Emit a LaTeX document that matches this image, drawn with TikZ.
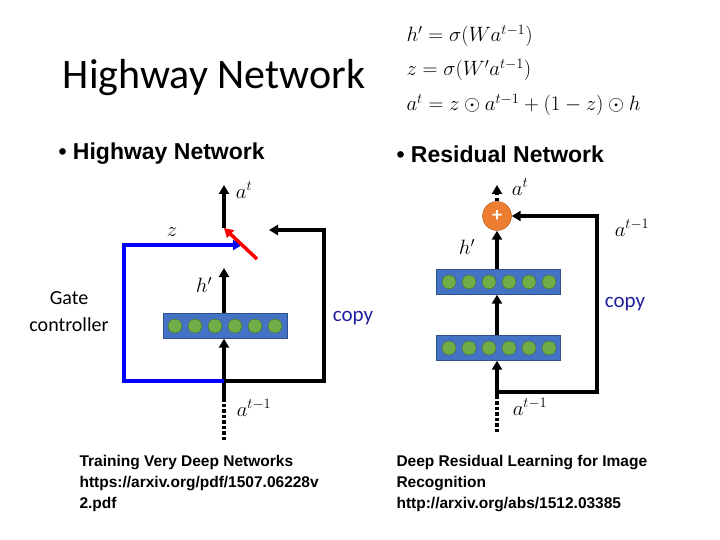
\documentclass[tikz,border=0pt]{standalone}
\usepackage{fontspec}
\setmainfont{Carlito}
\newfontfamily\arialf{Liberation Sans}
\usetikzlibrary{arrows.meta,positioning}
\definecolor{layerblue}{HTML}{4472C4}
\definecolor{unitgreen}{HTML}{70AD47}
\definecolor{plusorange}{HTML}{ED7D31}
\definecolor{copyblue}{HTML}{1F1FA0}
\tikzset{
    layer/.style={draw=layerblue!70!black, fill=layerblue, minimum width=124pt, minimum height=25pt, inner sep=0pt},
    unit/.style={circle, draw=unitgreen!60!black, fill=unitgreen, minimum size=14pt, inner sep=0pt},
    wire/.style={line width=3.5pt, -{Triangle[length=9pt,width=10pt]}},
    lbl/.style={font=\fontsize{21}{23}\selectfont}
}
\begin{document}
\begin{tikzpicture}[x=1pt, y=-1pt]
\useasboundingbox (0,0) rectangle (720,540);
% title and formulas
\node[font=\fontsize{42}{44}\selectfont] (title) at (214,78) {Highway Network};
\node[anchor=west, lbl, font=\fontsize{22}{24}\selectfont] (eq1) at (403,36) {$h' = \sigma(W a^{t-1})$};
\node[anchor=west, lbl, font=\fontsize{22}{24}\selectfont] (eq2) at (403,70) {$z = \sigma(W' a^{t-1})$};
\node[anchor=west, lbl, font=\fontsize{22}{24}\selectfont] (eq3) at (403,105) {$a^{t} = z \odot a^{t-1} + (1-z) \odot h$};
\node[anchor=west, font=\arialf\bfseries\fontsize{23}{25}\selectfont] (b1) at (55,154) {• Highway Network};
\node[anchor=west, font=\arialf\bfseries\fontsize{23}{25}\selectfont] (b2) at (393,154) {• Residual Network};

% left: highway
\node[layer] (hl) at (225,326) {};
\foreach \i in {0,...,5}
    \node[unit] at (175+\i*20,326) {};
\coordinate (hin) at (224,400);
\coordinate (hjoin) at (224,381);
\coordinate (hbl) at (124,381);
\coordinate (htl) at (124,245);
\coordinate (hz) at (242,245);
\coordinate (hbr) at (324,381);
\coordinate (htr) at (324,230);
\coordinate (hcopy) at (269,230);
\coordinate (hgate) at (224,228);
\coordinate (hout) at (224,185);
\coordinate (hh) at (224,268);
\coordinate (hred) at (257,259);
\draw[line width=3.5pt, dotted] (224,440) -- (hin);
\draw[wire] (hin) -- (hl.south -| hin);
\draw[wire] (hl.north -| hin) -- (hh);
\draw[wire, blue] (hjoin) -- (hbl) -- (htl) -- (hz);
\draw[wire] (hjoin) -- (hbr) -- (htr) -- (hcopy);
\draw[wire, red] (hred) -- (hgate);
\draw[wire] (hgate) -- (hout);
\node[lbl] at (244,190) {$a^{t}$};
\node[lbl] at (172,232) {$z$};
\node[lbl] at (204,285) {$h'$};
\node[lbl] at (254,408) {$a^{t-1}$};
\node[align=center, font=\fontsize{20}{27}\selectfont] (gate) at (69,312) {Gate\\controller};
\node[font=\fontsize{21}{22}\selectfont, text=copyblue] (copyl) at (353,318) {copy};

% right: residual
\node[layer] (r2) at (498,282) {};
\node[layer] (r1) at (498,348) {};
\foreach \i in {0,...,5} {
    \node[unit] at (449+\i*20,282) {};
    \node[unit] at (449+\i*20,348) {};
}
\node[circle, draw=plusorange!70!black, fill=plusorange, minimum size=29pt, inner sep=0pt, text=white, font=\bfseries\fontsize{20}{20}\selectfont] (plus) at (497,216) {+};
\coordinate (rin) at (497,396);
\coordinate (rjoin) at (497,392);
\coordinate (rbr) at (597,392);
\coordinate (rtr) at (597,216);
\coordinate (rout) at (497,185);
\draw[line width=3.5pt, dotted] (497,432) -- (rin);
\draw[wire] (rin) -- (r1.south -| rin);
\draw[wire] (r1.north -| rin) -- (r2.south -| rin);
\draw[wire] (r2.north -| rin) -- (plus.south);
\draw[wire] (rjoin) -- (rbr) -- (rtr) -- (plus.east);
\draw[line width=3.5pt, dashed, -{Triangle[length=9pt,width=10pt]}] (plus.north) -- (rout);
\node[lbl] at (520,187) {$a^{t}$};
\node[lbl] at (467,247) {$h'$};
\node[lbl] at (632,228) {$a^{t-1}$};
\node[lbl] at (530,407) {$a^{t-1}$};
\node[font=\fontsize{21}{22}\selectfont, text=copyblue] (copyr) at (625,304) {copy};

% references
\node[anchor=north west, align=left, font=\arialf\bfseries\fontsize{15.5}{21}\selectfont] (ref1) at (76,452) {Training Very Deep Networks\\https://arxiv.org/pdf/1507.06228v\\2.pdf};
\node[anchor=north west, align=left, font=\arialf\bfseries\fontsize{15.5}{21}\selectfont] (ref2) at (393,452) {Deep Residual Learning for Image\\Recognition\\http://arxiv.org/abs/1512.03385};
\end{tikzpicture}
\end{document}
